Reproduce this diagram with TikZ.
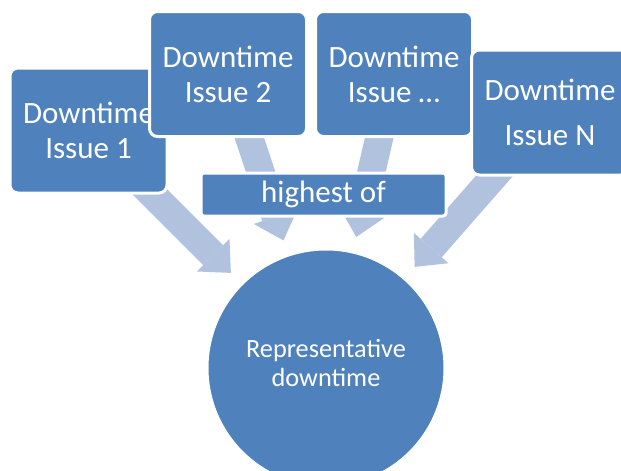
\documentclass[tikz,border=0pt]{standalone}
\usepackage{fontspec}
\setmainfont{Carlito}
\usetikzlibrary{positioning, arrows.meta}
\definecolor{boxblue}{HTML}{4F81BD}
\definecolor{flowblue}{HTML}{B1C2DE}
\pgfdeclarelayer{background}
\pgfsetlayers{background,main}

\begin{document}
\begin{tikzpicture}[x=1pt, y=-1pt,
    issue/.style={rectangle, rounded corners=8pt, fill=boxblue, draw=white, line width=3pt,
      text=white, minimum width=157pt, minimum height=125pt, inner sep=0pt, align=center,
      font=\fontsize{31}{35}\selectfont},
    hub/.style={circle, fill=boxblue, draw=white, line width=3pt, minimum size=238pt, inner sep=0pt},
    hubtext/.style={text=white, align=center, font=\fontsize{26.3}{29}\selectfont},
    flow/.style={draw=flowblue, line width=28pt,
      -{Triangle[length=25pt, width=46pt, line width=0pt]}, shorten >=14pt}]
	\useasboundingbox (0,0) rectangle (621,471);
	\clip (0,0) rectangle (621,471);
	% the downtime issues, later ones lie on top
	\node[issue] (issue1) at (88.5,130.5) {Downtime\\Issue 1};
	\node[issue] (issue2) at (228,74) {Downtime\\Issue 2};
	\node[issue, right=6pt of issue2] (issue3) {Downtime\\Issue \dots};
	\node[issue, font=\fontsize{31}{45}\selectfont] (issueN) at (550,112.5) {Downtime\\Issue N};
	\node[hub] (rep) at (326,368) {};
	\node[hubtext] (reptext) at ([yshift=5pt]rep.center) {Representative\\downtime};
	\node[issue, rounded corners=3pt, minimum width=245pt, minimum height=43pt] (highest) at (323.5,194.5) {highest of};
	% flows into the representative downtime
	\begin{pgfonlayer}{background}
		\draw[flow] (issue1.center) -- (rep);
		\draw[flow] (issue2.center) -- (rep);
		\draw[flow] (issue3.center) -- (rep);
		\draw[flow] (issueN.center) -- (rep);
	\end{pgfonlayer}
\end{tikzpicture}
\end{document}
